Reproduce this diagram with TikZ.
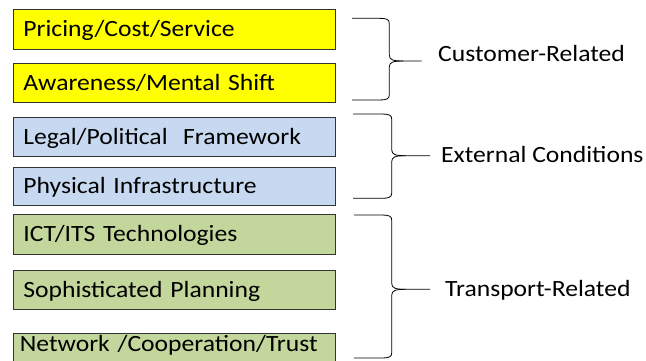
\documentclass[tikz,border=0pt]{standalone}
\usepackage{fontspec}
\setmainfont{Carlito}[FakeStretch=1.1]
\definecolor{boxyellow}{HTML}{FFFF00}
\definecolor{boxblue}{HTML}{C6D9F1}
\definecolor{boxgreen}{HTML}{C3D69B}
\newcommand\mybrace[6]{%
  \draw[bracestyle] (#1,#2) -- ({#3-10},#2) .. controls ({#3-3},#2) and (#3,{#2+1}) .. (#3,{#2+5})
    -- (#3,{#5-6}) .. controls (#3,{#5-1}) and ({#3+4},#5) .. ({#3+14},#5) -- (#4,#5);
  \draw[bracestyle] ({#3+14},#5) .. controls ({#3+4},#5) and (#3,{#5+1}) .. (#3,{#5+6})
    -- (#3,{#6-5}) .. controls (#3,{#6-1}) and ({#3-3},#6) .. ({#3-10},#6) -- (#1,#6);
}
\begin{document}
\begin{tikzpicture}[x=1pt,y=-1pt,
  every node/.style={font=\fontsize{23.3}{28}\selectfont},
  itembox/.style={draw=black!80, line width=0.8pt, anchor=west, align=left,
    text width=302pt, inner xsep=10pt, inner ysep=0pt, text height=15pt, text depth=0pt},
  bracestyle/.style={draw=black, line width=0.8pt},
  grouplabel/.style={anchor=base west, inner sep=0pt}]
\useasboundingbox (0,0) rectangle (646,360);
\node[itembox, fill=boxyellow, minimum height=40pt] (b1) at (13,29) {Pricing/Cost/Service};
\node[itembox, fill=boxyellow, minimum height=39pt] (b2) at (13,82.5) {Awareness/Mental Shift};
\node[itembox, fill=boxblue, minimum height=39pt] (b3) at (13,136.5) {Legal/Political~~Framework};
\node[itembox, fill=boxblue, minimum height=38pt] (b4) at (13,186) {Physical Infrastructure};
\node[itembox, fill=boxgreen, minimum height=39.5pt] (b5) at (13,234.2) {ICT/ITS Technologies};
\node[itembox, fill=boxgreen, minimum height=39pt] (b6) at (13,289.5) {Sophisticated Planning};
\node[itembox, fill=boxgreen, minimum height=40pt, inner xsep=6.5pt, text width=309pt, text depth=18.2pt] (b7) at (13,353.3) {Network /Cooperation/Trust};
\mybrace{352}{18.3}{389.3}{421.7}{61}{100}
\mybrace{353}{114}{391.7}{430}{155.7}{198.3}
\mybrace{354}{215}{391.7}{430}{289.3}{358}
\node[grouplabel] (g1) at (438,61.7) {Customer-Related};
\node[grouplabel] (g2) at (441,162.7) {External Conditions};
\node[grouplabel] (g3) at (445,296.7) {Transport-Related};
\end{tikzpicture}
\end{document}
